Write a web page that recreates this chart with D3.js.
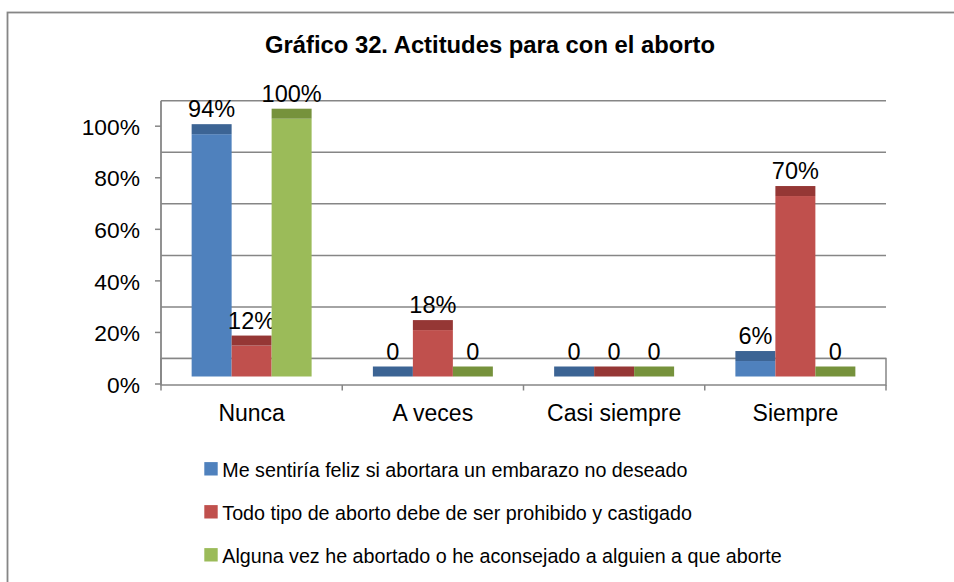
<!DOCTYPE html>
<html>
<head>
<meta charset="utf-8">
<script src="https://cdn.jsdelivr.net/npm/d3@7"></script>
<style>
  body { margin: 0; background: #fff; }
  svg { display: block; }
  text { font-family: "Liberation Sans", Arial, sans-serif; fill: #000; }
</style>
</head>
<body>
<div id="chart"></div>
<script>
const categories = ["Nunca", "A veces", "Casi siempre", "Siempre"];
const seriesNames = [
    "Me sentiría feliz si abortara un embarazo no deseado",
    "Todo tipo de aborto debe de ser prohibido y castigado",
    "Alguna vez he abortado o he aconsejado a alguien a que aborte"
];
const feliz = [0.94, 0, 0, 0.06];
const prohibido = [0.12, 0.18, 0, 0.70];
const abortado = [1.00, 0, 0, 0];
const yTicks = [0, 0.2, 0.4, 0.6, 0.8, 1.0];

const seriesValues = [feliz, prohibido, abortado];
const frontColors = ["#4F81BD", "#C0504D", "#9BBB59"];
const topColors = ["#3C6494", "#953735", "#76923C"];

const width = 954, height = 582;
const depth = 25;      // back wall offset
const barInset = 7;    // bar front face behind front plane
const barTop = 10;     // visible top face

const svg = d3.select("#chart")
    .append("svg")
    .attr("width", width)
    .attr("height", height);

// outer frame
svg.append("rect")
    .attr("x", 7.5).attr("y", 12.5)
    .attr("width", 1000).attr("height", 1000)
    .attr("fill", "none")
    .attr("stroke", "#868686")
    .attr("stroke-width", 1.8);

// title
svg.append("text")
    .attr("x", 490)
    .attr("y", 53)
    .attr("text-anchor", "middle")
    .style("font-size", "23.8px")
    .style("font-weight", "bold")
    .text("Gráfico 32. Actitudes para con el aborto");

const x = d3.scaleBand()
    .domain(categories)
    .range([161, 886]);

const xInner = d3.scaleBand()
    .domain(d3.range(seriesValues.length))
    .range([0, x.bandwidth()])
    .paddingInner(0)
    .paddingOuter(0.766);

const y = d3.scaleLinear()
    .domain([0, 1])
    .range([383.5, 125.7]);

const gridColor = "#868686";

// back wall gridlines
svg.append("g")
    .selectAll("line")
    .data(yTicks)
    .enter().append("line")
    .attr("x1", 161)
    .attr("x2", 886)
    .attr("y1", d => y(d) - depth)
    .attr("y2", d => y(d) - depth)
    .attr("stroke", gridColor)
    .attr("stroke-width", 1.5);

// floor
svg.append("rect")
    .attr("x", 161)
    .attr("y", y(0) - depth)
    .attr("width", 886 - 161)
    .attr("height", depth + 1.5)
    .attr("fill", "#fff")
    .attr("stroke", gridColor)
    .attr("stroke-width", 1.5);

// left axis line
svg.append("line")
    .attr("x1", 161).attr("x2", 161)
    .attr("y1", y(1) - depth)
    .attr("y2", y(0) + 1.5)
    .attr("stroke", gridColor)
    .attr("stroke-width", 1.8);

// left axis ticks and labels
const yAxis = svg.append("g")
    .attr("transform", "translate(161,0)")
    .call(d3.axisLeft(y)
        .tickValues(yTicks)
        .tickFormat(d3.format(".0%"))
        .tickSize(6)
        .tickPadding(15));
yAxis.select(".domain").remove();
yAxis.selectAll(".tick line").attr("stroke", gridColor).attr("stroke-width", 1.5);
yAxis.selectAll(".tick text")
    .style("font-size", "22.8px")
    .style("font-family", '"Liberation Sans", Arial, sans-serif')
    .attr("fill", "#000")
    .attr("dy", "0.38em");

// bottom axis ticks at category boundaries
const bounds = categories.map(c => x(c)).concat([x.range()[1]]);
svg.append("g")
    .selectAll("line")
    .data(bounds)
    .enter().append("line")
    .attr("x1", d => d).attr("x2", d => d)
    .attr("y1", y(0) + 1.5)
    .attr("y2", y(0) + 7)
    .attr("stroke", gridColor)
    .attr("stroke-width", 1.5);

svg.append("g")
    .selectAll("text")
    .data(categories)
    .enter().append("text")
    .attr("x", d => x(d) + x.bandwidth() / 2)
    .attr("y", 421)
    .attr("text-anchor", "middle")
    .style("font-size", "23px")
    .text(d => d);

// bars
const barBase = y(0) - barInset;
const yBar = v => barBase - (y(0) - y(v));

const groups = svg.append("g")
    .selectAll("g")
    .data(categories)
    .enter().append("g")
    .attr("transform", d => `translate(${x(d)},0)`);

seriesValues.forEach((vals, si) => {
    groups.append("rect")
        .attr("x", xInner(si))
        .attr("width", xInner.bandwidth())
        .attr("y", (d, ci) => yBar(vals[ci]))
        .attr("height", (d, ci) => barBase - yBar(vals[ci]))
        .attr("fill", frontColors[si]);

    groups.append("rect")
        .attr("x", xInner(si))
        .attr("width", xInner.bandwidth())
        .attr("y", (d, ci) => yBar(vals[ci]) - barTop)
        .attr("height", barTop)
        .attr("fill", topColors[si]);

    groups.append("text")
        .attr("x", xInner(si) + xInner.bandwidth() / 2)
        .attr("y", (d, ci) => yBar(vals[ci]) - barTop - 7)
        .attr("text-anchor", "middle")
        .style("font-size", "23.5px")
        .text((d, ci) => vals[ci] === 0 ? "0" : d3.format(".0%")(vals[ci]));
});

// legend
const legend = svg.append("g")
    .selectAll("g")
    .data(seriesNames)
    .enter().append("g")
    .attr("transform", (d, i) => `translate(204.3,${476.7 + i * 43})`);

legend.append("rect")
    .attr("x", 0)
    .attr("y", -14.6)
    .attr("width", 13.4)
    .attr("height", 13.4)
    .attr("fill", (d, i) => frontColors[i]);

legend.append("text")
    .attr("x", 18)
    .attr("y", 0)
    .style("font-size", "19.7px")
    .text(d => d);
</script>
</body>
</html>
